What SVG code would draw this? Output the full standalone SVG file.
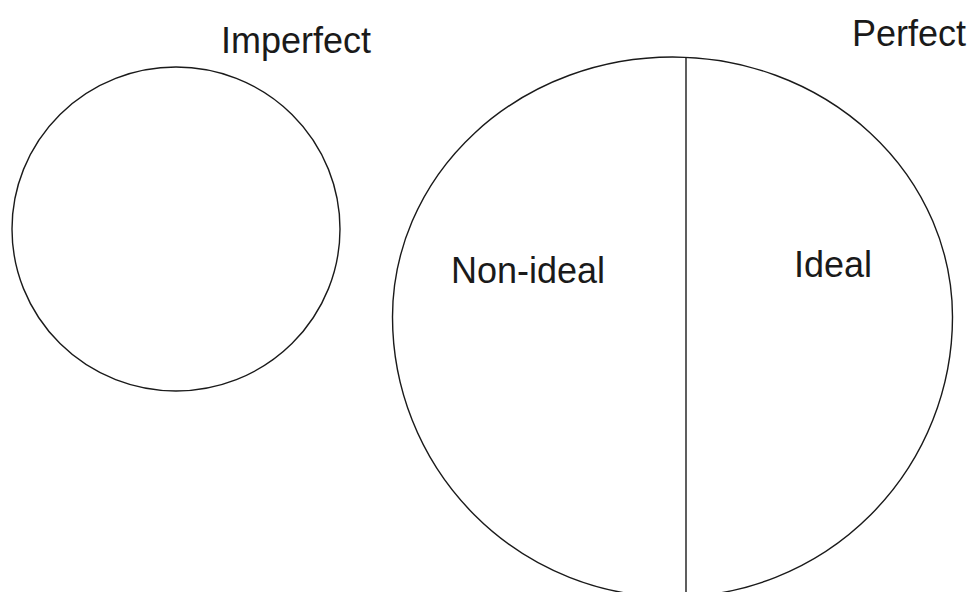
<svg xmlns="http://www.w3.org/2000/svg" width="976" height="592" viewBox="0 0 976 592">
<style>
.shape{fill:none;stroke:#1a1a1a;stroke-width:1.4}
.lbl{font-family:"Liberation Sans",Arial,sans-serif;font-size:36px;fill:#1a1a1a}
</style>
<rect width="976" height="592" fill="#ffffff"/>
<g id="imperfect">
<ellipse class="shape" cx="176" cy="229" rx="164" ry="162"/>
<text class="lbl" x="221" y="53">Imperfect</text>
</g>
<g id="perfect">
<path class="shape" d="M 392.5 317 A 280 260 0 0 1 952.5 317 A 280 280 0 0 1 392.5 317 Z"/>
<text class="lbl" x="852" y="46">Perfect</text>
</g>
<g id="connectors">
<line class="shape" x1="686" y1="57" x2="686" y2="592"/>
</g>
<g id="non-ideal">
<text class="lbl" x="451" y="283">Non-ideal</text>
</g>
<g id="ideal">
<text class="lbl" x="794" y="277" font-size="35">Ideal</text>
</g>
</svg>
